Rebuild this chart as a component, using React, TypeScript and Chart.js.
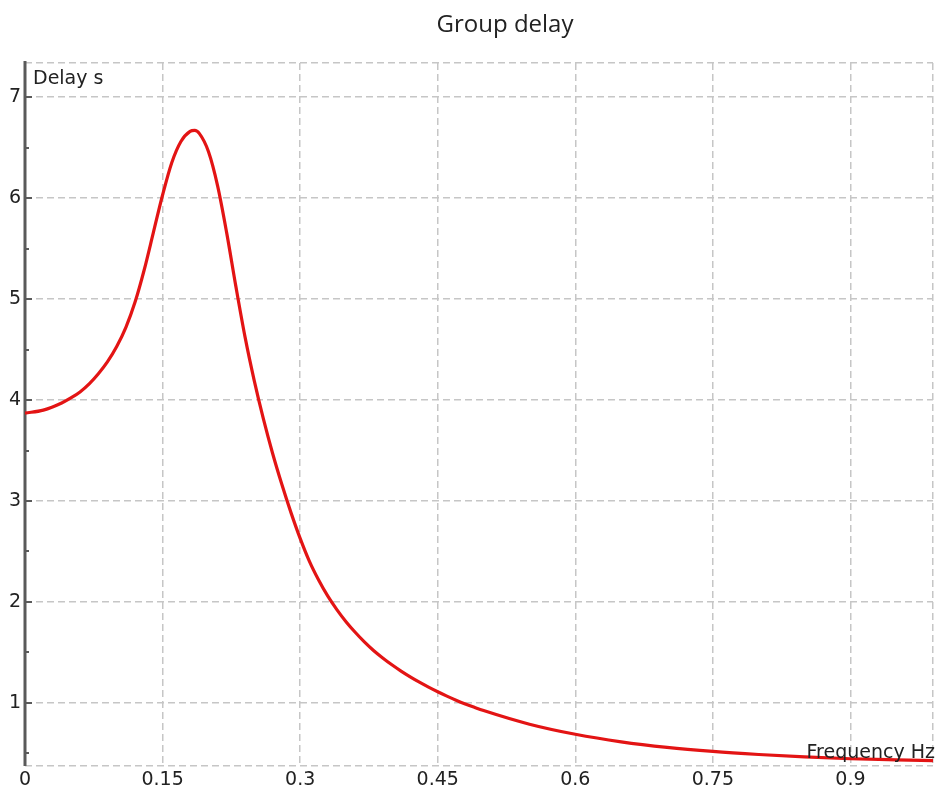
import React, { useEffect, useRef } from "react";
import { Chart, registerables } from "chart.js";

Chart.register(...registerables);

const TITLE = "Group delay";
const Y_TITLE = "Delay s";
const X_TITLE = "Frequency Hz";

const FREQ = [0, 0.02, 0.04, 0.05, 0.06, 0.07, 0.08, 0.09, 0.1, 0.11, 0.12, 0.13, 0.14, 0.15, 0.16, 0.17, 0.18, 0.185, 0.19, 0.2, 0.21, 0.22, 0.23, 0.24, 0.25, 0.26, 0.27, 0.28, 0.29, 0.3, 0.31, 0.32, 0.33, 0.34, 0.35, 0.36, 0.37, 0.38, 0.39, 0.4, 0.41, 0.42, 0.43, 0.44, 0.45, 0.46, 0.47, 0.48, 0.49, 0.5, 0.55, 0.6, 0.65, 0.7, 0.75, 0.8, 0.85, 0.9, 0.95, 0.99];
const DELAY = [3.87, 3.9, 3.97, 4.02, 4.08, 4.16, 4.26, 4.38, 4.53, 4.72, 4.97, 5.29, 5.66, 6.03, 6.35, 6.56, 6.66, 6.67, 6.64, 6.46, 6.12, 5.65, 5.12, 4.62, 4.19, 3.81, 3.47, 3.165, 2.885, 2.63, 2.405, 2.22, 2.06, 1.925, 1.805, 1.7, 1.605, 1.52, 1.446, 1.378, 1.316, 1.259, 1.206, 1.157, 1.111, 1.068, 1.028, 0.991, 0.957, 0.925, 0.79, 0.69, 0.615, 0.56, 0.52, 0.49, 0.466, 0.448, 0.437, 0.43];

const X_MIN = 0;
const X_MAX = 0.99;
const X_TICKS = [0, 0.15, 0.3, 0.45, 0.6, 0.75, 0.9];
const Y_MIN = 0.376;
const Y_MAX = 7.337;
const Y_MAJOR = [1, 2, 3, 4, 5, 6, 7];
const Y_MINOR = [0.5, 1.5, 2.5, 3.5, 4.5, 5.5, 6.5];

const GRID_COLOR = "#c6c6c6";
const AXIS_COLOR = "#5a5a5a";
const LINE_COLOR = "#e31414";
const TEXT_COLOR = "#222222";
const AXIS_FONT = "DejaVu Sans";

const isIn = (arr: number[], v: number) => arr.some((a) => Math.abs(a - v) < 1e-6);

const decor = {
  id: "decor",
  beforeDatasetsDraw(chart: any) {
    const { ctx, chartArea, scales } = chart;
    const y = scales.y;
    ctx.save();
    ctx.strokeStyle = AXIS_COLOR;
    ctx.lineWidth = 3;
    ctx.beginPath();
    ctx.moveTo(chartArea.left, chartArea.top - 2);
    ctx.lineTo(chartArea.left, chartArea.bottom);
    ctx.stroke();
    ctx.lineWidth = 2;
    Y_MAJOR.forEach((v) => {
      const py = Math.round(y.getPixelForValue(v));
      ctx.beginPath();
      ctx.moveTo(chartArea.left, py);
      ctx.lineTo(chartArea.left + 7, py);
      ctx.stroke();
    });
    Y_MINOR.forEach((v) => {
      const py = Math.round(y.getPixelForValue(v));
      ctx.beginPath();
      ctx.moveTo(chartArea.left, py);
      ctx.lineTo(chartArea.left + 4, py);
      ctx.stroke();
    });
    ctx.restore();
  },
  afterDraw(chart: any) {
    const { ctx, chartArea } = chart;
    ctx.save();
    ctx.fillStyle = TEXT_COLOR;
    ctx.font = "24px 'Open Sans'";
    ctx.textAlign = "center";
    ctx.textBaseline = "middle";
    ctx.fillText(TITLE, (chartArea.left + chartArea.right) / 2 + 26, 25);
    ctx.font = `19px '${AXIS_FONT}'`;
    ctx.textAlign = "left";
    ctx.fillText(Y_TITLE, chartArea.left + 8, chartArea.top + 16);
    ctx.textAlign = "right";
    ctx.fillText(X_TITLE, chartArea.right + 2, chartArea.bottom - 13);
    ctx.restore();
  },
};

export default function App() {
  const ref = useRef<HTMLCanvasElement | null>(null);
  useEffect(() => {
    if (!ref.current) return;
    const chart = new Chart(ref.current, {
      type: "line",
      data: {
        datasets: [
          {
            data: FREQ.map((f, i) => ({ x: f, y: DELAY[i] })),
            borderColor: LINE_COLOR,
            borderWidth: 3.2,
            pointRadius: 0,
            cubicInterpolationMode: "monotone",
            fill: false,
          },
        ],
      },
      options: {
        animation: false,
        responsive: true,
        maintainAspectRatio: false,
        layout: { padding: { top: 63, right: 2, left: 0, bottom: 0 } },
        plugins: { legend: { display: false }, title: { display: false }, tooltip: { enabled: false } },
        scales: {
          x: {
            type: "linear",
            min: X_MIN,
            max: X_MAX,
            afterBuildTicks: (s: any) => {
              s.ticks = [...X_TICKS, X_MAX].map((v) => ({ value: v }));
            },
            afterFit: (s: any) => {
              s.height = 28;
            },
            grid: {
              color: GRID_COLOR,
              lineWidth: 1.5,
              drawTicks: false,
            },
            border: { display: false, dash: [7, 4] },
            ticks: {
              padding: 3,
              color: TEXT_COLOR,
              font: { family: AXIS_FONT, size: 19 },
              maxRotation: 0,
              autoSkip: false,
              callback: (v: any) => (isIn(X_TICKS, Number(v)) ? String(Number(Number(v).toFixed(2))) : ""),
            },
          },
          y: {
            type: "linear",
            min: Y_MIN,
            max: Y_MAX,
            afterBuildTicks: (s: any) => {
              s.ticks = [Y_MIN, ...Y_MAJOR, Y_MAX].map((v) => ({ value: v }));
            },
            afterFit: (s: any) => {
              s.width = 25;
            },
            grid: {
              color: GRID_COLOR,
              lineWidth: 1.5,
              drawTicks: false,
            },
            border: { display: false, dash: [7, 4] },
            ticks: {
              padding: 4,
              color: TEXT_COLOR,
              font: { family: AXIS_FONT, size: 19 },
              autoSkip: false,
              callback: (v: any) => (isIn(Y_MAJOR, Number(v)) ? String(v) : ""),
            },
          },
        },
      },
      plugins: [decor],
    } as any);
    return () => chart.destroy();
  }, []);
  return (
    <div style={{ position: "fixed", left: 0, top: 0, width: 936, height: 794, background: "#fff" }}>
      <canvas ref={ref} />
    </div>
  );
}
